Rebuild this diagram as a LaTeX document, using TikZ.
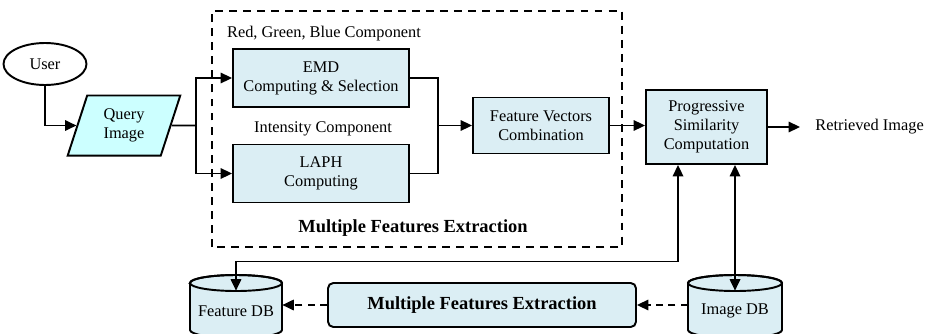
\documentclass[tikz,border=0pt]{standalone}
\usepackage{fontspec}
\setmainfont{Liberation Serif}
\usetikzlibrary{arrows.meta,shapes.geometric}
\definecolor{boxblue}{HTML}{DBEEF4}
\definecolor{querycyan}{HTML}{CCFFFF}

\begin{document}
\begin{tikzpicture}[
    >={Triangle[length=6.5pt,width=6pt]},
    font=\fontsize{9.3}{10.8}\selectfont,
    block/.style={draw, line width=1.1pt, fill=boxblue, align=center, inner sep=0pt},
    link/.style={line width=0.9pt},
    dashlink/.style={line width=0.9pt, dash pattern=on 4pt off 3pt},
    dbbody/.style={draw, line width=1.1pt, fill=boxblue},
    boldlabel/.style={font=\fontsize{10.5}{12}\selectfont\bfseries}
]

\useasboundingbox (0,0) rectangle (18.6,6.66);

% User
\node[
    draw,
    ellipse,
    line width=1.1pt,
    minimum width=1.66cm,
    minimum height=0.84cm,
    inner sep=0pt
] (user) at (0.9,5.38) {User};

% Query image
\node[
    draw,
    trapezium,
    trapezium left angle=72,
    trapezium right angle=108,
    fill=querycyan,
    line width=1.1pt,
    minimum width=2.26cm,
    minimum height=1.14cm,
    inner sep=0pt,
    align=center
] (qimg) at (2.48,4.15) {Query\\Image};

% Frame of the extraction stage
\draw[
    line width=1pt,
    dash pattern=on 4.5pt off 3.5pt
] (4.24,1.72) rectangle (12.44,6.44);
\node[boldlabel] (mfelbl) at (8.26,2.10) {Multiple Features Extraction};

% Colour and intensity branches
\node (rgb) at (6.48,5.98) {Red, Green, Blue Component};
\node[block, minimum width=3.52cm, minimum height=1.16cm] (emd) at (6.42,5.10)
    {EMD\\Computing \& Selection};
\node (inten) at (6.46,4.08) {Intensity Component};
\node[block, minimum width=3.52cm, minimum height=1.16cm] (laph) at (6.42,3.19)
    {LAPH\\Computing};

% Combination and similarity
\node[block, minimum width=2.72cm, minimum height=1.12cm] (fvc) at (10.82,4.15)
    {Feature Vectors\\Combination};
\node[block, minimum width=2.42cm, minimum height=1.48cm] (psc) at (14.13,4.12)
    {Progressive\\Similarity\\Computation};
\node[anchor=west, inner sep=0pt] (retr) at (16.3,4.12) {Retrieved Image};

% Offline extraction
\node[
    block,
    rounded corners=3pt,
    boldlabel,
    minimum width=6.16cm,
    minimum height=0.88cm
] (mfe) at (9.64,0.56) {Multiple Features Extraction};

% Feature DB
\filldraw[dbbody] (3.80,1.0) -- (3.80,0.06)
    arc[start angle=180, end angle=360, x radius=0.92cm, y radius=0.16cm]
    -- (5.64,1.0)
    arc[start angle=0, end angle=180, x radius=0.92cm, y radius=0.16cm] -- cycle;
\draw[line width=1.1pt] (4.72,1.0) ellipse [x radius=0.92cm, y radius=0.16cm];
\node[minimum width=1.84cm, minimum height=0.8cm, inner sep=0pt] (fdb) at (4.72,0.44) {Feature DB};

% Image DB
\filldraw[dbbody] (13.76,1.0) -- (13.76,0.06)
    arc[start angle=180, end angle=360, x radius=0.94cm, y radius=0.16cm]
    -- (15.64,1.0)
    arc[start angle=0, end angle=180, x radius=0.94cm, y radius=0.16cm] -- cycle;
\draw[line width=1.1pt] (14.70,1.0) ellipse [x radius=0.94cm, y radius=0.16cm];
\node[minimum width=1.88cm, minimum height=0.8cm, inner sep=0pt] (idb) at (14.70,0.44) {Image DB};

% Connectors
\coordinate (split) at (3.92,4.15);
\coordinate (merge) at (8.76,4.15);

\draw[link, ->] (user.south) |- (qimg.west);
\draw[link] (qimg.east) -- (split);
\draw[link, ->] (split) |- (emd.west);
\draw[link, ->] (split) |- (laph.west);
\draw[link] (emd.east) -| (merge) |- (laph.east);
\draw[link, ->] (merge) -- (fvc.west);
\draw[link, ->] (fvc.east) -- (fvc.east -| psc.west);
\draw[link, ->] (psc.east) -- ([xshift=-0.3cm]retr.west);

\draw[link, <->] (fdb.north) -- ++(0,0.58) -| ([xshift=-0.57cm]psc.south);
\draw[link, <->] (idb.north) -- (idb.north |- psc.south);

\draw[dashlink, ->] (idb.west |- mfe.east) -- (mfe.east);
\draw[dashlink, ->] (mfe.west) -- (mfe.west -| fdb.east);

\end{tikzpicture}
\end{document}
